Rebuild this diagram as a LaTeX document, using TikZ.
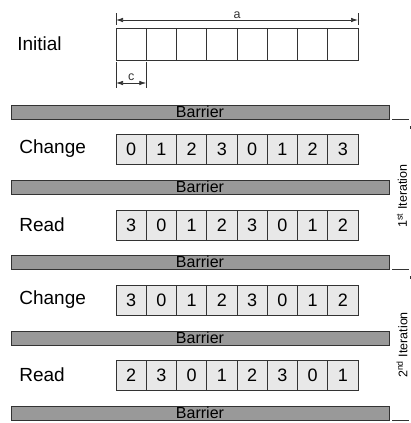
\documentclass[tikz,border=0pt]{standalone}
\usepackage{fontspec}
\setmainfont{Liberation Sans}
\usetikzlibrary{arrows.meta,positioning}
\tikzset {>={Latex[length=7pt,width=4.5pt]}}
\definecolor{cellgray}{gray}{0.91}
\definecolor{bargray}{gray}{0.6}
\definecolor{edgegray}{gray}{0.2}
\tikzset{
  cell/.style={draw=edgegray,fill=cellgray,minimum width=30.25pt,minimum height=30pt,
    inner sep=0pt,font=\fontsize{18}{20}\selectfont},
  barrier/.style={draw=edgegray,fill=bargray,minimum width=378pt,minimum height=14pt,
    inner sep=0pt,font=\fontsize{16}{16}\selectfont},
  rowlabel/.style={anchor=west,inner sep=0pt,font=\fontsize{19}{22}\selectfont},
  dimlabel/.style={inner sep=1pt,font=\fontsize{12.5}{13}\selectfont},
  iterlabel/.style={rotate=90,inner sep=0pt,font=\fontsize{12.5}{14}\selectfont}
}

\begin{document}
\begin{tikzpicture}[x=1pt,y=-1pt,line width=.7pt]
\useasboundingbox (0,0) rectangle (411,423);

% initial array
\node[rowlabel] (init) at (17,44) {Initial};
\foreach \i in {1,...,8}
  \node[cell,fill=white,minimum height=32pt] (in\i) at ({116+30.25*(\i-.5)},44) {};

% size of the array and of one cell
\coordinate (aL) at (116,20);
\coordinate (aR) at (358,20);
\coordinate (cL) at (116,83);
\coordinate (cR) at (146.25,83);
\draw[edgegray] (116,13) -- (116,25) (358,13) -- (358,25);
\draw[edgegray] (116,62) -- (116,88) (146.25,62) -- (146.25,88);
\draw[<->,edgegray] (aL) -- (aR) node[dimlabel,midway,above] (alab) {a};
\draw[<->,edgegray] (cL) -- (cR) node[dimlabel,midway,above,yshift=1pt] (clab) {c};

% change and read steps
\foreach \lbl/\y/\vals/\nm in {Change/149/{0,1,2,3,0,1,2,3}/cha,
    Read/225/{3,0,1,2,3,0,1,2}/rda,
    Change/300/{3,0,1,2,3,0,1,2}/chb,
    Read/375/{2,3,0,1,2,3,0,1}/rdb}
{
  \node[rowlabel] (\nm) at (19,\y) {\lbl};
  \foreach \v [count=\i] in \vals
    \node[cell] (\nm\i) at ({116+30.25*(\i-.5)},\y) {\v};
}

% barriers
\foreach \y [count=\k] in {112,187,262,338,413}
  \node[barrier] (bar\k) at (200,\y) {Barrier};

% iterations
\foreach \k in {1,3,5}
{
  \draw[edgegray,line width=.6pt] (bar\k.south east) ++(3,0) -- ++(17,0);
  \draw[edgegray,line width=.5pt] (bar\k.south east) ++(21,7) -- ++(0,3);
}
\node[iterlabel] (it1) at (402,196) {1\textsuperscript{st} Iteration};
\node[iterlabel] (it2) at (402,345) {2\textsuperscript{nd} Iteration};
\end{tikzpicture}
\end{document}
